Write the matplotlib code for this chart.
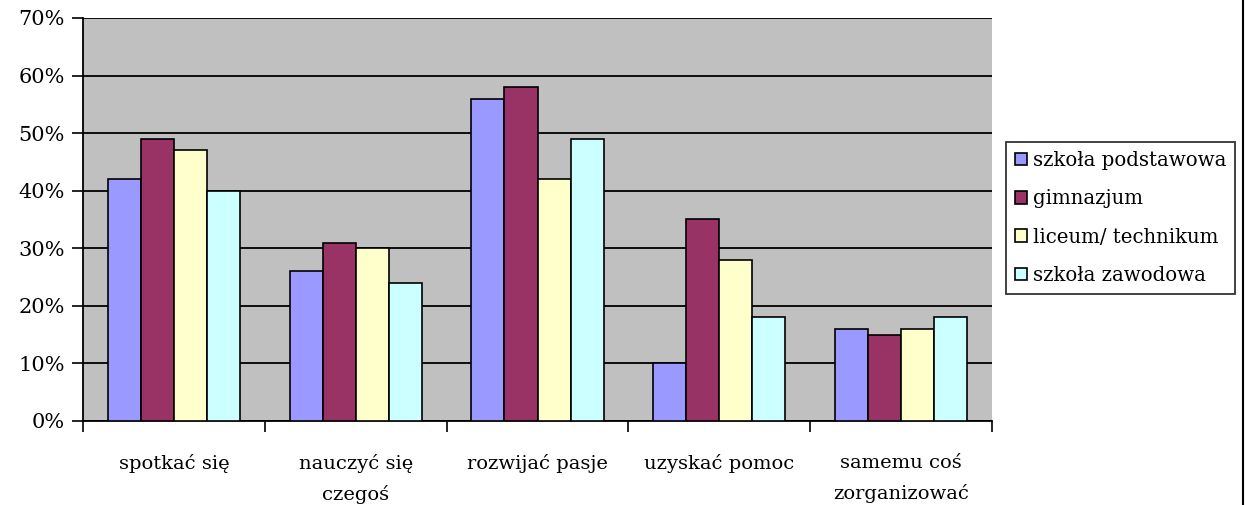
import numpy as np
import matplotlib as mpl
mpl.use('Agg')
import matplotlib.pyplot as plt
from matplotlib.lines import Line2D
from matplotlib.ticker import PercentFormatter

categories = ["spotkać się", "nauczyć się\nczegoś", "rozwijać pasje",
              "uzyskać pomoc", "samemu coś\nzorganizować"]
series_names = ["szkoła podstawowa", "gimnazjum", "liceum/ technikum", "szkoła zawodowa"]
podstawowa = [42, 26, 56, 10, 16]
gimnazjum = [49, 31, 58, 35, 15]
liceum = [47, 30, 42, 28, 16]
zawodowa = [40, 24, 49, 18, 18]
colors = ["#9999FF", "#993366", "#FFFFCC", "#CCFFFF"]

plt.rcParams['font.family'] = ['DejaVu Serif']
plt.rcParams['font.size'] = 14

fig = plt.figure(figsize=(12.45, 5.05), dpi=100)
ax = fig.add_axes([83/1245, 84/505, 909/1245, 403/505])
ax.set_facecolor("#C0C0C0")

x = np.arange(len(categories))
w = 0.182
all_series = [podstawowa, gimnazjum, liceum, zawodowa]
for i, vals in enumerate(all_series):
    ax.bar(x + (i - 1.5) * w, vals, width=w, color=colors[i], edgecolor="black",
           linewidth=1.2, label=series_names[i], zorder=3)

ax.set_xlim(-0.5, len(categories) - 0.5)
ax.set_ylim(0, 70)
ax.set_yticks(range(0, 71, 10))
ax.yaxis.set_major_formatter(PercentFormatter(decimals=0))
ax.yaxis.grid(True, color="black", linewidth=1.3, zorder=1)
ax.set_axisbelow(True)

ax.set_xticks(x)
ax.set_xticklabels(categories, linespacing=1.75)
ax.set_xticks(np.arange(-0.5, len(categories)), minor=True)
ax.tick_params(axis='x', which='major', length=0, pad=24, labelsize=14)
ax.tick_params(axis='x', which='minor', length=8, width=1.2, color="black")
ax.tick_params(axis='y', length=8, width=1.2, labelsize=15, pad=5)

for s in ["top", "right"]:
    ax.spines[s].set_visible(False)
ax.spines["left"].set_linewidth(1.3)
ax.spines["bottom"].set_linewidth(1.3)

leg = ax.legend(loc="upper left", bbox_to_anchor=(1006/1245, (505-142)/505),
                bbox_transform=fig.transFigure, frameon=True, fancybox=False,
                edgecolor="black", fontsize=14.2, handlelength=0.6, handleheight=0.6,
                handletextpad=0.3, labelspacing=0.98, borderpad=0.45, borderaxespad=0)
leg.get_frame().set_linewidth(1.3)

fig.add_artist(Line2D([1243/1245, 1243/1245], [0, 1], transform=fig.transFigure,
                      color="black", linewidth=1.5))

plt.savefig("out.png", dpi=100)
